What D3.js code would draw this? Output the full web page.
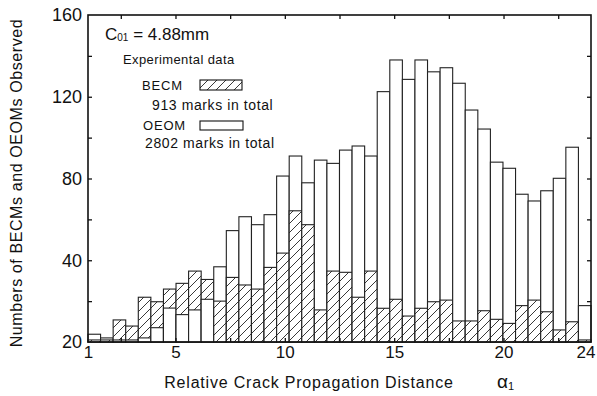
<!DOCTYPE html>
<html>
<head>
<meta charset="utf-8">
<script src="https://cdn.jsdelivr.net/npm/d3@7"></script>
<style>
  body { margin: 0; background: #fff; }
  svg { display: block; }
  text { font-family: "Liberation Sans", "DejaVu Sans", sans-serif; fill: #111; }
</style>
</head>
<body>
<svg width="597" height="396"></svg>
<script>
// 40 bins along the crack propagation distance
const bins = d3.range(1, 41)
const becm = [1, 1, 10.8, 7.8, 21.9, 19.7, 25.9, 28.7, 34.7, 30.6,
    20, 31.6, 27.9, 25.9, 36.5, 43.5, 64.2, 57.4, 15.7, 34.7,
    34.1, 21.9, 34.7, 16.5, 20.9, 12.7, 16.5, 19.7, 20.5, 10.3,
    10.3, 15.3, 11.1, 9.1, 17.8, 20.5, 14.8, 5.9, 9.9, 1]
const oeom = [3.8, 2, 1, 1, 2, 7, 16.6, 13.4, 15.7, 20.9,
    36.8, 54.5, 61.3, 57.4, 62.3, 81.2, 91, 77.9, 89, 87.4,
    93.9, 95.9, 91, 122.5, 138, 128.5, 138, 132.2, 134.2, 126.6,
    113.5, 104.2, 88, 85, 72.3, 69, 74, 80.1, 95.3, 17.8]

const xTickLabels = [1, 5, 10, 15, 20, 24]
const xMinorTicks = [2.5, 5, 7.5, 10, 12.5, 15, 17.5, 20, 22.5]
const yTickValues = [0, 40, 80, 120, 160]
const yTickLabels = ["20", "40", "80", "120", "160"]
const yMinorTicks = [20, 40, 60, 80, 100, 120, 140]

const svg = d3.select('svg')
const plotL = 88, plotR = 591, plotT = 15, plotB = 342

const xBand = d3.scaleBand().domain(bins).range([plotL, plotR]).paddingInner(0)
const x = d3.scaleLinear().domain([1, 24]).range([plotL, plotR])
const y = d3.scaleLinear().domain([0, 160]).range([plotB, plotT])

// hatch pattern for BECM
const defs = svg.append('defs')
const pat = defs.append('pattern')
    .attr('id', 'hatch')
    .attr('patternUnits', 'userSpaceOnUse')
    .attr('width', 9).attr('height', 9)
pat.append('rect').attr('width', 9).attr('height', 9).attr('fill', '#fff')
pat.append('path')
    .attr('d', 'M-1,10 L10,-1 M-1,1 L1,-1 M8,10 L10,8')
    .attr('stroke', '#222').attr('stroke-width', 0.9)

// bars: taller one first, shorter one drawn on top
const rows = bins.map((b, i) => {
    const a = {v: becm[i], fill: 'url(#hatch)'}
    const o = {v: oeom[i], fill: '#fff'}
    return {bin: b, parts: a.v > o.v ? [a, o] : [o, a]}
})

const barG = svg.append('g')
barG.selectAll('g')
    .data(rows)
    .enter().append('g')
    .selectAll('rect')
    .data(d => d.parts.map(p => ({bin: d.bin, v: p.v, fill: p.fill})))
    .enter().append('rect')
    .attr('x', d => xBand(d.bin))
    .attr('width', xBand.bandwidth())
    .attr('y', d => y(d.v))
    .attr('height', d => y(0) - y(d.v))
    .attr('fill', d => d.fill)
    .attr('stroke', '#222')
    .attr('stroke-width', 1.1)

// frame
svg.append('rect')
    .attr('x', plotL).attr('y', plotT)
    .attr('width', plotR - plotL).attr('height', plotB - plotT)
    .attr('fill', 'none').attr('stroke', '#111').attr('stroke-width', 1.6)

// inward minor ticks
svg.append('g').attr('transform', `translate(${plotL},0)`)
    .call(d3.axisRight(y).tickValues(yMinorTicks).tickSize(4).tickFormat(''))
    .call(g => g.select('.domain').remove())
svg.append('g').attr('transform', `translate(${plotR},0)`)
    .call(d3.axisLeft(y).tickValues(yMinorTicks).tickSize(4).tickFormat(''))
    .call(g => g.select('.domain').remove())
svg.append('g').attr('transform', `translate(0,${plotT})`)
    .call(d3.axisBottom(x).tickValues(xMinorTicks).tickSize(4).tickFormat(''))
    .call(g => g.select('.domain').remove())
svg.append('g').attr('transform', `translate(0,${plotB})`)
    .call(d3.axisTop(x).tickValues(xMinorTicks).tickSize(4).tickFormat(''))
    .call(g => g.select('.domain').remove())
svg.selectAll('.tick line').attr('stroke', '#111').attr('stroke-width', 1.3)

// tick labels
const yAxis = svg.append('g').attr('transform', `translate(${plotL},0)`)
    .call(d3.axisLeft(y).tickValues(yTickValues).tickSize(0).tickPadding(6)
        .tickFormat((d, i) => yTickLabels[i]))
yAxis.select('.domain').remove()
yAxis.selectAll('text').attr('font-size', 18).attr('fill', '#111')
    .attr('font-family', '"Liberation Sans", sans-serif')

const xAxis = svg.append('g').attr('transform', `translate(0,${plotB})`)
    .call(d3.axisBottom(x).tickValues(xTickLabels).tickSize(0).tickPadding(4)
        .tickFormat(d3.format('d')))
xAxis.select('.domain').remove()
xAxis.selectAll('text').attr('font-size', 17).attr('fill', '#111')
    .attr('font-family', '"Liberation Sans", sans-serif')
// keep the last label inside the window
xAxis.selectAll('text').filter(d => d === 24).attr('text-anchor', 'end').attr('dx', 4)

// axis titles
svg.append('text')
    .attr('transform', 'translate(22,183) rotate(-90)')
    .attr('text-anchor', 'middle')
    .attr('font-size', 16)
    .attr('letter-spacing', 0.6)
    .text('Numbers of BECMs and OEOMs Observed')

svg.append('text')
    .attr('x', 309).attr('y', 388)
    .attr('text-anchor', 'middle')
    .attr('font-size', 16)
    .attr('letter-spacing', 0.8)
    .text('Relative Crack Propagation Distance')

const alpha = svg.append('text').attr('x', 497).attr('y', 388).attr('font-size', 19)
alpha.append('tspan').text('α')
alpha.append('tspan').attr('font-size', 11).attr('dy', 2).text('1')

// legend block
const c = svg.append('text').attr('x', 105).attr('y', 40).attr('font-size', 17)
c.append('tspan').text('C')
c.append('tspan').attr('font-size', 10).attr('dy', 1).text('01')
c.append('tspan').attr('dy', -1).text(' = 4.88mm')

svg.append('text').attr('x', 123).attr('y', 64).attr('font-size', 13).attr('letter-spacing', 0.4)
    .text('Experimental data')
svg.append('text').attr('x', 142).attr('y', 90).attr('font-size', 13).attr('letter-spacing', 0.8)
    .text('BECM')
svg.append('rect').attr('x', 200).attr('y', 80).attr('width', 42).attr('height', 10)
    .attr('fill', 'url(#hatch)').attr('stroke', '#111').attr('stroke-width', 1.1)
svg.append('text').attr('x', 152).attr('y', 110).attr('font-size', 14).attr('letter-spacing', 0.6)
    .text('913 marks in total')
svg.append('text').attr('x', 143).attr('y', 130).attr('font-size', 13).attr('letter-spacing', 0.8)
    .text('OEOM')
svg.append('rect').attr('x', 200).attr('y', 121).attr('width', 43).attr('height', 9)
    .attr('fill', '#fff').attr('stroke', '#111').attr('stroke-width', 1.1)
svg.append('text').attr('x', 145).attr('y', 148).attr('font-size', 14).attr('letter-spacing', 0.6)
    .text('2802 marks in total')
</script>
</body>
</html>
